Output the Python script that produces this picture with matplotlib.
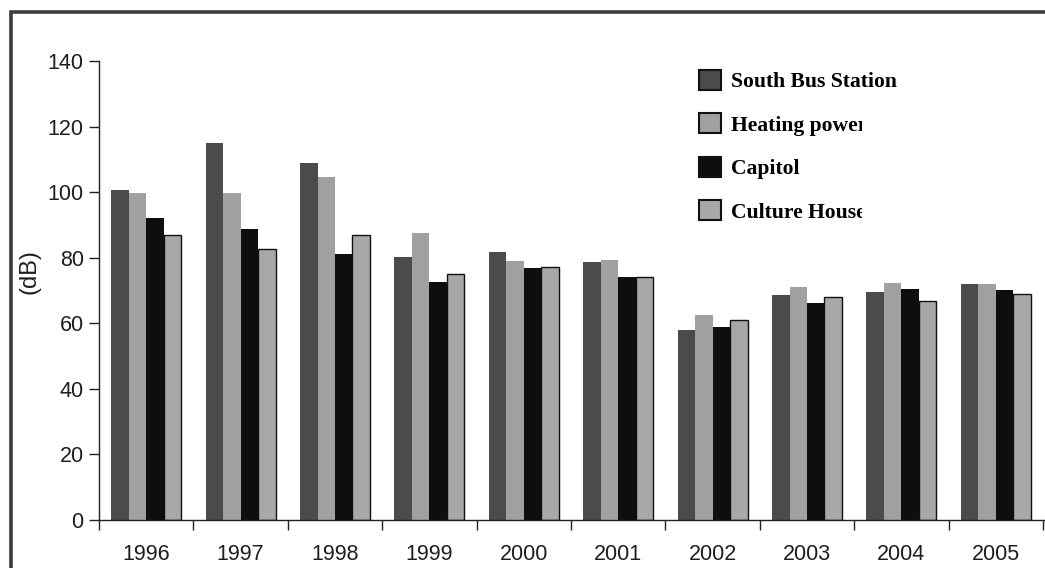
import matplotlib
matplotlib.use("Agg")
import matplotlib.pyplot as plt
from matplotlib.patches import Patch, Rectangle
from matplotlib.transforms import Bbox
import numpy as np

# Annual noise levels (dB) at four monitoring sites
years = ["1996", "1997", "1998", "1999", "2000", "2001", "2002", "2003", "2004", "2005"]
south_bus_station = [100.6, 115.1, 108.9, 80.3, 81.8, 78.8, 57.8, 68.6, 69.5, 71.9]
heating_power = [99.8, 99.8, 104.7, 87.6, 79.1, 79.2, 62.5, 71.2, 72.4, 71.9]
capitol = [92.2, 88.8, 81.1, 72.7, 76.9, 74.2, 58.8, 66.3, 70.4, 70.1]
culture_house = [86.8, 82.6, 86.8, 75.0, 77.3, 74.2, 60.9, 68.1, 66.9, 68.8]
series_names = ["South Bus Station", "Heating power", "Capitol", "Culture House"]
y_ticks = [0, 20, 40, 60, 80, 100, 120, 140]

W, H = 1045, 568
fig = plt.figure(figsize=(W / 100, H / 100), dpi=100)
fig.patch.set_facecolor("white")

# Outer frame (runs off the right and bottom edges)
fig.patches.append(Rectangle((10.5 / W, -0.1), 1.2, (H - 12) / H + 0.1,
                             transform=fig.transFigure, fill=False,
                             edgecolor="#3c3c3c", linewidth=2.6))

ax = fig.add_axes([99 / W, 48 / H, 946 / W, 459 / H])

series = [south_bus_station, heating_power, capitol, culture_house]
colors = ["#4b4b4b", "#a0a0a0", "#0e0e0e", "#a8a8a8"]
edges = ["#4b4b4b", "#a0a0a0", "#0e0e0e", "#111111"]
edge_w = [0, 0, 0, 1.0]
bar_w = 0.185
centers = np.arange(len(years)) + 0.5
for j, vals in enumerate(series):
    ax.bar(centers + (j - 1.5) * bar_w, vals, width=bar_w, color=colors[j],
           edgecolor=edges[j], linewidth=edge_w[j], zorder=2)

ax.set_xlim(0, 946 / 94.4)
ax.set_ylim(0, 140)

for s in ["top", "right"]:
    ax.spines[s].set_visible(False)
for s in ["left", "bottom"]:
    ax.spines[s].set_color("#222222")
    ax.spines[s].set_linewidth(1.0)

ax.set_yticks(y_ticks)
ax.set_yticklabels([str(v) for v in y_ticks])
ax.tick_params(axis="y", direction="out", length=7, width=1, color="#222222",
               pad=4, labelsize=15.5, labelcolor="#1e1e1e")

# Group boundaries carry the ticks, group centres carry the year labels
ax.set_xticks(np.arange(len(years) + 1))
ax.set_xticklabels([])
ax.set_xticks(centers, minor=True)
ax.set_xticklabels(years, minor=True)
ax.tick_params(axis="x", which="major", direction="out", length=7, width=1,
               color="#222222")
ax.tick_params(axis="x", which="minor", length=0, pad=17, labelsize=15.5,
               labelcolor="#1e1e1e")

for lbl in ax.get_xticklabels(minor=True) + ax.get_yticklabels():
    lbl.set_family("Liberation Sans")

ax.set_ylabel("(dB)", fontsize=17, family="Liberation Sans", color="#1e1e1e")
ax.yaxis.set_label_coords(-(99 - 41) / 946, (520 - 272) / 459)

handles = [Patch(facecolor=c, edgecolor="#111111", linewidth=1.5) for c in colors]
leg = ax.legend(handles, series_names, loc="upper left",
                bbox_to_anchor=(699 / W, (H - 70) / H),
                bbox_transform=fig.transFigure, frameon=False,
                prop={"family": "Liberation Serif", "weight": "bold", "size": 15.6},
                handlelength=1.02, handleheight=1.02, handletextpad=0.45,
                labelspacing=0.98, borderpad=0, borderaxespad=0)

# Two of the legend labels are cut short at the right
clip = Bbox([[0, 0], [862, H]])
for i in (1, 3):
    t = leg.get_texts()[i]
    t.set_clip_box(clip)
    t.set_clip_on(True)

fig.savefig("out.png", dpi=100, facecolor="white")
